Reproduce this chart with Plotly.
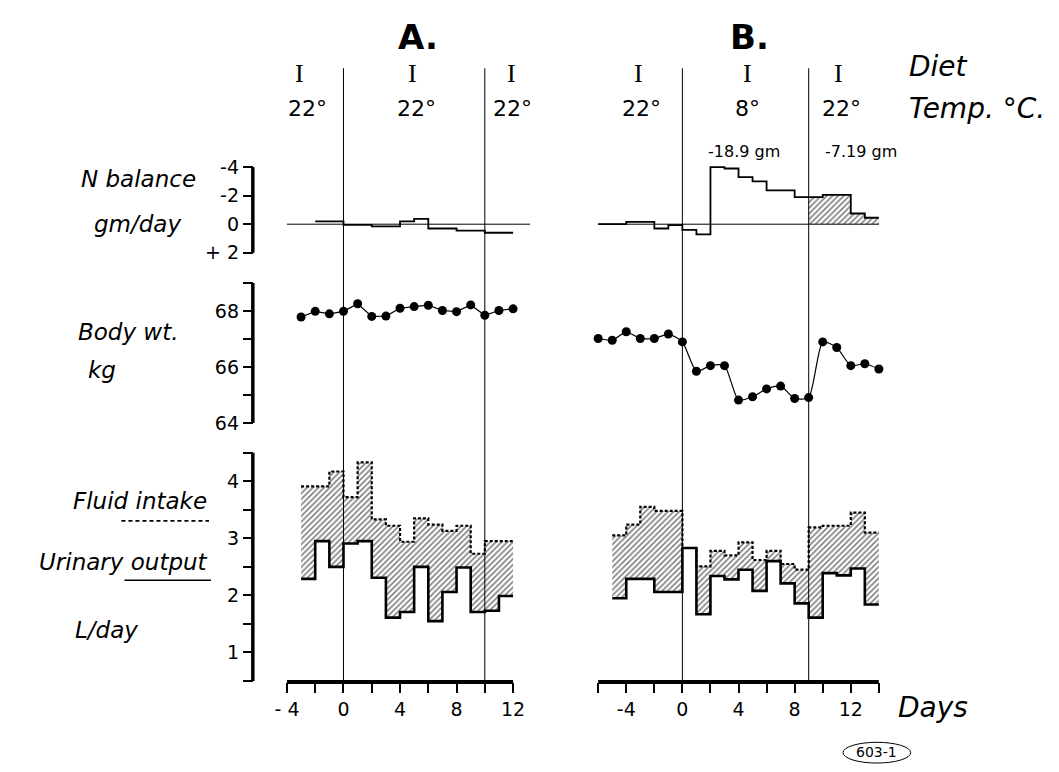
import plotly.graph_objects as go

W, H = 1059, 772
FONT = "DejaVu Sans"
SERIF = "Liberation Serif"


def px(x):
    return x / W


def py(y):
    return 1 - y / H


# ---------------- data ----------------
# N balance, gm/day (negative = loss), one value per day interval
nbal_a_days = list(range(-2, 12))
nbal_a = [-0.2, -0.2, 0.05, 0.05, 0.15, 0.15, -0.2, -0.37, 0.3, 0.3, 0.45, 0.45, 0.6, 0.6]

nbal_b_days = list(range(-6, 14))
nbal_b = [0.0, 0.0, -0.16, -0.16, 0.3, 0.07, 0.4, 0.72, -4.0, -3.9, -3.3, -3.0,
          -2.37, -2.37, -1.9, -1.9, -2.05, -2.05, -0.75, -0.45]

# Body weight, kg
wt_a_days = list(range(-3, 13))
wt_a = [67.79, 67.99, 67.9, 67.99, 68.26, 67.81, 67.82, 68.1, 68.16, 68.21,
        68.02, 67.98, 68.22, 67.85, 68.02, 68.08]

wt_b_days = list(range(-6, 15))
wt_b = [67.02, 66.96, 67.26, 67.02, 67.02, 67.18, 66.9, 65.85, 66.05, 66.05,
        64.82, 64.94, 65.22, 65.32, 64.88, 64.91, 66.9, 66.7, 66.05, 66.12, 65.93]

# Fluid intake / urinary output, L/day, one value per day interval
fluid_a_days = list(range(-3, 12))
intake_a = [3.91, 3.91, 4.17, 3.72, 4.33, 3.33, 3.22, 2.94, 3.35, 3.24, 3.13,
            3.22, 2.73, 2.95, 2.95]
output_a = [2.29, 2.95, 2.5, 2.91, 2.95, 2.31, 1.61, 1.71, 2.5, 1.55, 2.06,
            2.49, 1.71, 1.73, 1.99]

fluid_b_days = list(range(-5, 14))
intake_b = [3.05, 3.24, 3.55, 3.48, 3.48, 2.83, 2.51, 2.78, 2.7, 2.93, 2.62,
            2.78, 2.55, 2.45, 3.19, 3.22, 3.22, 3.45, 3.1]
output_b = [1.95, 2.29, 2.29, 2.06, 2.06, 2.83, 1.67, 2.34, 2.28, 2.45, 2.08,
            2.6, 2.21, 1.86, 1.61, 2.39, 2.35, 2.47, 1.84]

# period boundaries (days) and headings
bounds_a = [0, 10]
bounds_b = [0, 9]
temps_a = ["22°", "22°", "22°"]
temps_b = ["22°", "8°", "22°"]
diet = ["I", "I", "I"]
loss_labels = ["-18.9 gm", "-7.19 gm"]
recovery_start_b = 9

x_ticks_a = list(range(-4, 13, 2))
x_text_a = ["- 4", "", "0", "", "4", "", "8", "", "12"]
x_ticks_b = list(range(-6, 15, 2))
x_text_b = ["", "-4", "", "0", "", "4", "", "8", "", "12", "", ""]


def steps(days, vals):
    """Edges for an hv step line: each value holds for one day."""
    return list(days) + [days[-1] + 1], list(vals) + [vals[-1]]


HATCH = dict(shape="/", fgcolor="black", bgcolor="white", size=4, solidity=0.4)

fig = go.Figure()

# ---- N balance ----
x, y = steps(nbal_a_days, nbal_a)
fig.add_trace(go.Scatter(x=x, y=y, xaxis="x", yaxis="y", mode="lines",
                         line=dict(color="black", width=1.8, shape="hv")))

rec = [i for i, d in enumerate(nbal_b_days) if d >= recovery_start_b]
xr, yr = steps([nbal_b_days[i] for i in rec], [nbal_b[i] for i in rec])
fig.add_trace(go.Scatter(x=xr, y=yr, xaxis="x2", yaxis="y", mode="lines",
                         line=dict(color="rgba(0,0,0,0)", width=0, shape="hv"),
                         fill="tozeroy", fillpattern=HATCH, fillcolor="white"))
x, y = steps(nbal_b_days, nbal_b)
fig.add_trace(go.Scatter(x=x, y=y, xaxis="x2", yaxis="y", mode="lines",
                         line=dict(color="black", width=1.8, shape="hv")))

# ---- body weight ----
fig.add_trace(go.Scatter(x=wt_a_days, y=wt_a, xaxis="x", yaxis="y2",
                         mode="lines+markers", cliponaxis=False,
                         line=dict(color="black", width=1.2),
                         marker=dict(color="black", size=9)))
fig.add_trace(go.Scatter(x=wt_b_days, y=wt_b, xaxis="x2", yaxis="y2",
                         mode="lines+markers", cliponaxis=False,
                         line=dict(color="black", width=1.2, shape="spline", smoothing=0.6),
                         marker=dict(color="black", size=9)))

# ---- fluid intake (dashed) over urinary output (solid), hatched between ----
for days, inn, out, xa in [(fluid_a_days, intake_a, output_a, "x"),
                           (fluid_b_days, intake_b, output_b, "x2")]:
    xo, yo = steps(days, out)
    xi, yi = steps(days, inn)
    fig.add_trace(go.Scatter(x=xo, y=yo, xaxis=xa, yaxis="y3", mode="lines",
                             line=dict(color="black", width=2.6, shape="hv")))
    fig.add_trace(go.Scatter(x=xi, y=yi, xaxis=xa, yaxis="y3", mode="lines",
                             line=dict(color="black", width=2.2, shape="hv", dash="3px,2px"),
                             fill="tonexty", fillpattern=HATCH, fillcolor="white"))

# ---------------- axes ----------------
tickfont = dict(family=FONT, size=19, color="black")
common_x = dict(anchor="free", position=py(686), showgrid=False, zeroline=False,
                showline=False, ticks="outside", ticklen=10, tickwidth=1.5,
                tickcolor="black", tickfont=tickfont, tickmode="array")
common_y = dict(anchor="free", position=px(249), showgrid=False, zeroline=False,
                showline=False, ticks="outside", ticklen=10, tickwidth=1.5,
                tickcolor="black", tickfont=tickfont, tickmode="array")

fig.update_layout(
    width=W, height=H,
    margin=dict(l=0, r=0, t=0, b=0),
    paper_bgcolor="white", plot_bgcolor="rgba(0,0,0,0)",
    showlegend=False,
    xaxis=dict(domain=[px(276.2), px(531.8)], range=[-4.5, 13.5],
               tickvals=x_ticks_a, ticktext=x_text_a, **common_x),
    xaxis2=dict(domain=[px(588.95), px(885.05)], range=[-6.5, 14.5],
                tickvals=x_ticks_b, ticktext=x_text_b, **common_x),
    yaxis=dict(domain=[py(258.9), py(157.8)], range=[2.5, -4.5],
               tickvals=[-4, -2, 0, 2], ticktext=["-4", "-2", "0", "+ 2"], **common_y),
    yaxis2=dict(domain=[py(429.7), py(276.7)], range=[63.8, 69.2],
                tickvals=[64, 65, 66, 67, 68, 69], ticktext=["64", "", "66", "", "68", ""],
                **common_y),
    yaxis3=dict(domain=[py(690.8), py(448.2)], range=[0.4, 4.6],
                tickvals=[0.5, 1, 1.5, 2, 2.5, 3, 3.5, 4, 4.5],
                ticktext=["", "1", "", "2", "", "3", "", "4", ""], **common_y),
)

shapes = []
# axis bars
for yref, lo, hi in [("y", -4, 2), ("y2", 64, 69), ("y3", 0.5, 4.5)]:
    shapes.append(dict(type="line", xref="paper", yref=yref, x0=px(249), x1=px(249),
                       y0=lo, y1=hi, line=dict(color="black", width=3.5)))
shapes.append(dict(type="line", xref="x", yref="paper", x0=-4, x1=12,
                   y0=py(686), y1=py(686), line=dict(color="black", width=4)))
shapes.append(dict(type="line", xref="x2", yref="paper", x0=-6, x1=14,
                   y0=py(686), y1=py(686), line=dict(color="black", width=4)))
# period boundaries
for xref, bds in [("x", bounds_a), ("x2", bounds_b)]:
    for b in bds:
        shapes.append(dict(type="line", xref=xref, yref="paper", x0=b, x1=b,
                           y0=py(686), y1=py(65), line=dict(color="black", width=1)))
# N balance zero lines
shapes.append(dict(type="line", xref="x", yref="y", x0=-4, x1=13.2, y0=0, y1=0,
                   line=dict(color="black", width=1)))
shapes.append(dict(type="line", xref="x2", yref="y", x0=-6, x1=14, y0=0, y1=0,
                   line=dict(color="black", width=1)))
# underlines of the fluid legend
shapes.append(dict(type="line", xref="paper", yref="paper", x0=px(117), x1=px(205),
                   y0=py(523), y1=py(523), line=dict(color="black", width=1.6, dash="4px,3px")))
shapes.append(dict(type="line", xref="paper", yref="paper", x0=px(120), x1=px(207),
                   y0=py(583), y1=py(583), line=dict(color="black", width=1.6)))
# figure number ellipse
shapes.append(dict(type="circle", xref="paper", yref="paper", x0=px(842), x1=px(910),
                   y0=py(768), y1=py(747), line=dict(color="black", width=1)))
fig.update_layout(shapes=shapes)

ann = []


def text(x, y, s, size, xanchor="center", italic=False, family=FONT, bold=False):
    f = dict(family=family, size=size, color="black")
    if italic:
        f["style"] = "italic"
    if bold:
        f["weight"] = "bold"
    ann.append(dict(x=px(x), y=py(y), xref="paper", yref="paper", text=s,
                    showarrow=False, xanchor=xanchor, yanchor="middle", font=f))


text(415, 33, "A.", 34, bold=True)
text(748, 33, "B.", 34, bold=True)
for xx, s in zip([296, 409, 509, 637, 746, 837], diet + diet):
    text(xx, 70, s, 26, family=SERIF)
for xx, s in zip([304, 413, 510, 640, 746, 840], temps_a + temps_b):
    text(xx, 106, s, 22)
text(906, 63, "Diet", 28, xanchor="left", italic=True)
text(906, 106, "Temp. °C.", 28, xanchor="left", italic=True)
text(743, 149, loss_labels[0], 16)
text(860, 149, loss_labels[1], 16)

text(194, 177, "N balance", 23, xanchor="right", italic=True)
text(133, 223, "gm/day", 23, italic=True)
text(124, 332, "Body wt.", 23, italic=True)
text(97, 370, "kg", 23, italic=True)
text(205, 503, "Fluid intake", 23, xanchor="right", italic=True)
text(206, 565, "Urinary output", 23, xanchor="right", italic=True)
text(102, 633, "L/day", 23, italic=True)
text(895, 712, "Days", 28, xanchor="left", italic=True)
text(876, 757, "603-1", 14)
fig.update_layout(annotations=ann)

fig.write_html("out.html")
